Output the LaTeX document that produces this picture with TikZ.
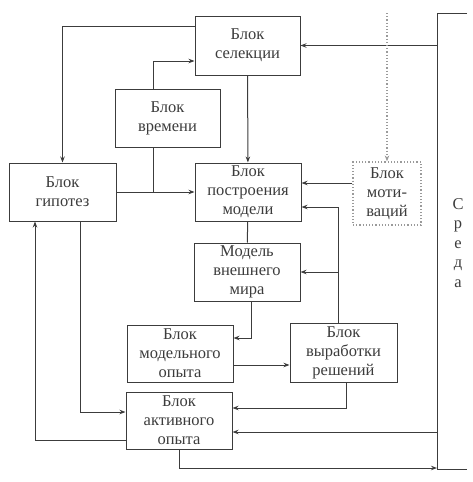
\documentclass[tikz,border=0pt]{standalone}
\usepackage{fontspec}
\setmainfont{Liberation Serif}
\usetikzlibrary{arrows.meta}
\definecolor{ink}{HTML}{3C3C3C}
\definecolor{ink2}{HTML}{9A9A9A}
\tikzset{
  >={Stealth[length=6pt,width=4.5pt]},
  every picture/.style={line width=1pt,draw=ink,font=\fontsize{16.5}{19}\selectfont},
  bx/.style={draw=ink,fill=white,align=center,inner sep=0pt,text=ink,
    minimum width=106pt,minimum height=58pt},
  dotbx/.style={bx,draw=ink2,dotted,line width=1.2pt,minimum width=68pt,minimum height=63pt},
  arr/.style={->,draw=ink},
  dot/.style={->,draw=ink2,dotted,line width=1.2pt},
}
\begin{document}
\begin{tikzpicture}[x=1pt,y=-1pt]
  \useasboundingbox (0,0) rectangle (473,482);
  \node[bx,minimum width=105pt,minimum height=59pt] (sel) at (247.5,45.5) {Блок\\селекции};
  \node[bx,minimum width=105pt] (time) at (167.5,118) {Блок\\времени};
  \node[bx,minimum width=107pt] (hyp) at (62.5,192) {Блок\\гипотез};
  \node[bx] (bld) at (248,192) {Блок\\построения\\модели};
  \node[dotbx] (mot) at (387,193.5) {Блок\\моти-\\ваций};
  \node[bx] (mdl) at (247,272) {Модель\\внешнего\\мира};
  \node[bx,minimum height=57pt] (mexp) at (180,353.5) {Блок\\модельного\\опыта};
  \node[bx,minimum width=107pt,minimum height=59pt] (dec) at (343.5,352.5) {Блок\\выработки\\решений};
  \node[bx,minimum height=57pt] (act) at (179,420.5) {Блок\\активного\\опыта};
  % environment
  \coordinate (envtop) at (437,13);
  \coordinate (envbot) at (437,469);
  \draw (467,13) -- (envtop) -- (envbot) -- (467,469);
  \node[align=center,text=ink,font=\fontsize{16.5}{19.5}\selectfont] (env) at (458,243) {С\\р\\е\\д\\а};
  % connectors
  \draw[arr] (envtop |- sel.east) -- (sel.east);
  \draw[arr] ([yshift=19.5pt]sel.west) -| (hyp.north);
  \draw[arr] ([xshift=-14.5pt]time.north) |- ([yshift=-15.5pt]sel.west);
  \draw[arr] (hyp) -- (bld);
  \draw ([xshift=-14.5pt]time.south) -- ([xshift=-14.5pt]time.south |- hyp.east);
  \draw[arr] (sel) -- (bld);
  \draw[dot] (mot.north |- envtop) -- (mot.north);
  \draw[arr] ([yshift=10.5pt]mot.west) -- ([yshift=10.5pt]mot.west -| bld.east);
  \draw[arr] ([xshift=-5.5pt]dec.north) |- ([yshift=-15pt]bld.east);
  \draw[arr] ([xshift=-5.5pt]dec.north |- mdl.east) -- (mdl.east);
  \draw (bld) -- (mdl);
  \draw[arr] ([xshift=4pt]mdl.south) |- ([yshift=15.5pt]mexp.east);
  \draw[arr] ([yshift=-11.5pt]mexp.east) -- ([yshift=-11.5pt]mexp.east -| dec.west);
  \draw[arr] ([xshift=2.5pt]dec.south) |- ([yshift=12.5pt]act.east);
  \draw[arr] (envtop |- act.east) ++(0,11.5) -- ([yshift=-11.5pt]act.east);
  \draw[arr] (act.south) |- (envbot |- 0,468);
  \draw[arr] ([yshift=-19.5pt]act.west) -| ([xshift=-27.5pt]hyp.south);
  \draw[arr] ([xshift=17.5pt]hyp.south) |- ([yshift=8.5pt]act.west);
\end{tikzpicture}
\end{document}
